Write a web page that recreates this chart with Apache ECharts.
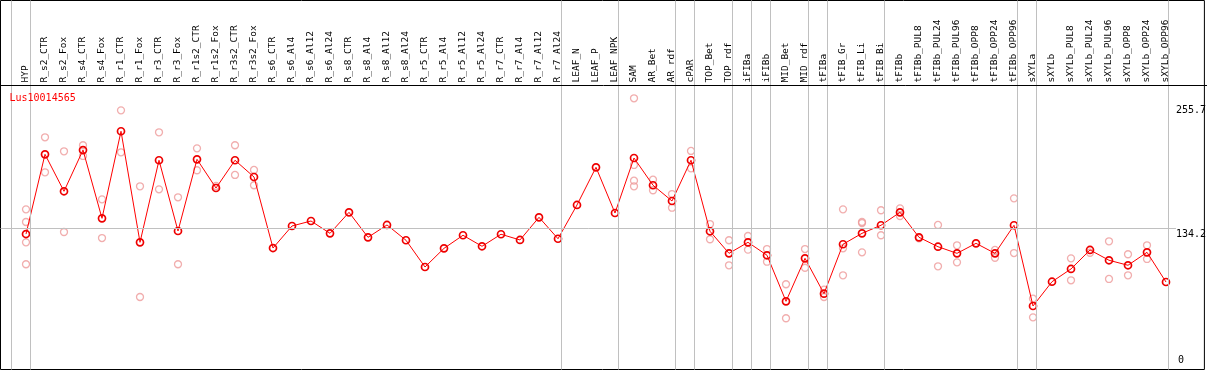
<!DOCTYPE html>
<html>
<head>
<meta charset="utf-8">
<style>
  html, body { margin: 0; padding: 0; background: #fff; }
  #chart { width: 1209px; height: 370px; }
</style>
<script src="https://cdn.jsdelivr.net/npm/echarts@6/dist/echarts.min.js"></script>
</head>
<body>
<div id="chart"></div>
<script>
const title = 'Lus10014565';

const categories = ['HYP','R_s2_CTR','R_s2_Fox','R_s4_CTR','R_s4_Fox','R_r1_CTR','R_r1_Fox','R_r3_CTR','R_r3_Fox',
  'R_r1s2_CTR','R_r1s2_Fox','R_r3s2_CTR','R_r3s2_Fox','R_s6_CTR','R_s6_Al4','R_s6_Al12','R_s6_Al24',
  'R_s8_CTR','R_s8_Al4','R_s8_Al12','R_s8_Al24','R_r5_CTR','R_r5_Al4','R_r5_Al12','R_r5_Al24',
  'R_r7_CTR','R_r7_Al4','R_r7_Al12','R_r7_Al24','LEAF_N','LEAF_P','LEAF_NPK','SAM','AR_Bet','AR_rdf',
  'cPAR','TOP_Bet','TOP_rdf','iFIBa','iFIBb','MID_Bet','MID_rdf','tFIBa','tFIB_Gr','tFIB_Li','tFIB_Bi',
  'tFIBb','tFIBb_PUL8','tFIBb_PUL24','tFIBb_PUL96','tFIBb_OPP8','tFIBb_OPP24','tFIBb_OPP96',
  'sXYLa','sXYLb','sXYLb_PUL8','sXYLb_PUL24','sXYLb_PUL96','sXYLb_OPP8','sXYLb_OPP24','sXYLb_OPP96'];

const meanValues = [128.6, 206.7, 170.5, 210.9, 144.0, 229.3, 120.5, 200.9, 131.6, 201.8,
  173.7, 200.9, 184.5, 114.9, 136.5, 141.4, 129.3, 149.9, 125.4, 137.5,
  122.5, 96.3, 114.6, 127.4, 116.6, 128.4, 122.8, 145.0, 124.0, 157.1,
  194.0, 149.2, 203.1, 176.4, 161.0, 200.9, 131.3, 109.7, 120.5, 107.8,
  62.7, 104.8, 70.2, 118.6, 129.3, 137.2, 149.9, 125.4, 116.2, 109.7,
  119.5, 109.7, 137.2, 58.1, 81.9, 94.4, 113.0, 102.9, 98.0, 110.7, 81.6];

const replicateValues = [
  [152.8, 140.4, 120.5, 99.0], [223.4, 189.1], [209.7, 130.6], [215.6, 205.1], [162.6, 124.7],
  [249.8, 208.7], [175.4, 66.9], [228.3, 172.4], [164.6, 99.0], [212.6, 191.1],
  [175.7], [215.6, 186.5], [191.4, 176.4], [], [], [], [], [], [], [], [], [], [], [], [], [], [], [], [],
  [], [], [],
  [261.6, 196.3, 180.9, 175.4], [181.9, 171.5], [167.8, 154.4], [210.0, 193.0], [138.4, 123.5],
  [122.5, 98.0], [126.7, 113.3], [113.9, 101.5], [79.4, 46.1], [113.9, 95.6], [74.1, 66.9],
  [152.8, 114.6, 88.2], [140.4, 139.4, 110.7], [151.9, 127.4], [153.8, 146.3], [124.4],
  [137.5, 97.0], [117.6, 100.9], [], [113.0, 105.4], [163.6, 110.0], [65.3, 47.0], [],
  [104.8, 83.3], [110.3], [121.5, 84.6], [108.8, 88.2], [117.6, 104.2], []
];

// separators drawn after these category indices
const separatorsAfter = [-1, 0, 28, 31, 34, 35, 37, 38, 39, 41, 42, 45, 52, 53, 60];
const referenceValue = 134.2;
const rightLabelsTop = [255.7, 134.2];
const rightLabelsBottom = [0];

// layout constants
const STEP = 19, FIRST = 26, FRAME_L = 0.5, FRAME_R = 1206.5, TOP = 0.5, H = 369;
const Y_MIN = -4.115, Y_MAX = 357.43;
const SEP_OFF = 4.5 / STEP;
const mono = 'DejaVu Sans Mono';

const repData = [];
replicateValues.forEach((arr, i) => arr.forEach(v => repData.push([i, v])));

const chart = echarts.init(document.getElementById('chart'), null, { renderer: 'canvas' });
chart.setOption({
  animation: false,
  backgroundColor: '#fff',
  title: {
    text: title, left: 4.5, top: 88,
    textStyle: { color: '#ff0000', fontSize: 10, fontWeight: 'normal', fontFamily: mono }
  },
  grid: [
    { left: FRAME_L, top: TOP, width: FRAME_R - FRAME_L, height: H, show: true,
      borderColor: '#000', borderWidth: 1, backgroundColor: 'transparent' },
    { left: FIRST - STEP / 2, top: TOP, width: STEP * categories.length, height: H }
  ],
  xAxis: [
    { gridIndex: 0, type: 'value', min: (FRAME_L - FIRST) / STEP, max: (FRAME_R - FIRST) / STEP,
      show: false },
    { gridIndex: 1, type: 'category', data: categories, position: 'top', offset: -85,
      boundaryGap: true,
      axisLine: { show: false }, axisTick: { show: false }, splitLine: { show: false },
      axisLabel: { rotate: 90, interval: 0, margin: 3, fontSize: 9.5, color: '#000', fontFamily: mono } }
  ],
  yAxis: [
    { gridIndex: 0, type: 'value', min: Y_MIN, max: Y_MAX, position: 'right',
      axisLine: { show: false }, axisTick: { show: false }, splitLine: { show: false },
      axisLabel: { inside: true, customValues: rightLabelsTop, align: 'left', verticalAlign: 'top',
        margin: FRAME_R - 1178, fontSize: 10, color: '#000', fontFamily: mono,
        padding: [1, 0, 0, 0], formatter: v => String(v) } },
    { gridIndex: 1, type: 'value', min: Y_MIN, max: Y_MAX, position: 'right',
      axisLine: { show: false }, axisTick: { show: false }, splitLine: { show: false },
      axisLabel: { customValues: rightLabelsBottom, align: 'left', verticalAlign: 'bottom',
        margin: 1178 - (FIRST - STEP / 2 + STEP * categories.length), fontSize: 10, color: '#000',
        fontFamily: mono, formatter: v => String(v) } }
  ],
  graphic: [
    { type: 'line', shape: { x1: 0, y1: 85.5, x2: 1207, y2: 85.5 }, style: { stroke: '#000', lineWidth: 1 }, z: 10 }
  ],
  series: [
    { type: 'scatter', xAxisIndex: 0, yAxisIndex: 0, data: [], silent: true,
      markLine: {
        silent: true, symbol: 'none', label: { show: false },
        lineStyle: { color: '#c0c0c0', width: 1, type: 'solid' },
        data: separatorsAfter.map(k => ({ xAxis: k + SEP_OFF })).concat([
          [{ coord: [(FRAME_L - FIRST) / STEP, referenceValue] }, { coord: [(1178 - FIRST) / STEP, referenceValue] }]
        ])
      }
    },
    { type: 'scatter', xAxisIndex: 1, yAxisIndex: 1, data: repData, silent: true,
      symbol: 'circle', symbolSize: 7,
      itemStyle: { color: 'transparent', borderColor: '#ee9a9a', borderWidth: 1.3 }, z: 3 },
    { type: 'line', xAxisIndex: 1, yAxisIndex: 1, data: meanValues, silent: true,
      symbol: 'circle', symbolSize: 7, showAllSymbol: true,
      lineStyle: { color: '#ff0000', width: 1 },
      itemStyle: { color: 'transparent', borderColor: '#ee0000', borderWidth: 1.7 }, z: 4 }
  ]
});
</script>
</body>
</html>
